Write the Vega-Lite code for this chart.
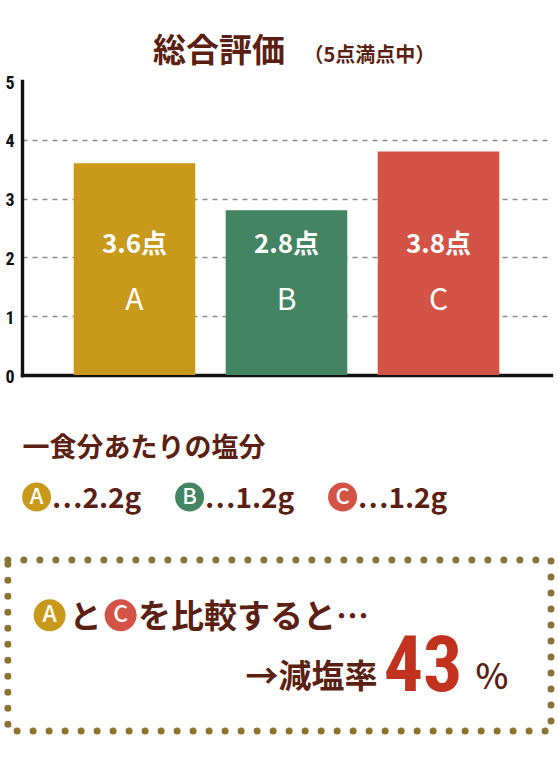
{
  "$schema": "https://vega.github.io/schema/vega-lite/v6.json",
  "background": "#ffffff",
  "padding": {"left": 4, "top": 36, "right": 0, "bottom": 0},
  "config": {"font": "Noto Sans CJK JP", "view": {"stroke": null}},
  "columns": 1,
  "align": "none",
  "spacing": 19,
  "concat": [
    {
      "width": 529,
      "height": 294,
      "title": {
        "text": "総合評価",
        "anchor": "start",
        "dx": 148,
        "font": "Noto Sans CJK JP",
        "fontSize": 33,
        "fontWeight": "bold",
        "color": "#5B1F14",
        "offset": -23.5
      },
      "data": {
        "values": [
          {"item": "A", "score": 3.6},
          {"item": "B", "score": 2.8},
          {"item": "C", "score": 3.8}
        ]
      },
      "transform": [{"calculate": "format(datum.score, '.1f') + '点'", "as": "scoreLabel"}],
      "encoding": {
        "x": {
          "field": "item",
          "type": "nominal",
          "sort": null,
          "scale": {"paddingInner": 0.2, "paddingOuter": 0.34},
          "axis": {
            "labels": false,
            "ticks": false,
            "domainColor": "#111111",
            "domainWidth": 3.4,
            "domainCap": "square",
            "title": "一食分あたりの塩分",
            "titleAnchor": "start",
            "titleAlign": "left",
            "titleBaseline": "top",
            "titleFont": "Noto Sans CJK JP",
            "titleFontSize": 27,
            "titleFontWeight": "bold",
            "titleColor": "#5B1F14",
            "titlePadding": 60
          }
        }
      },
      "layer": [
        {
          "mark": {"type": "bar"},
          "encoding": {
            "y": {
              "field": "score",
              "type": "quantitative",
              "scale": {"domain": [0, 5], "nice": false},
              "axis": {
                "title": "（5点満点中）",
                "titleAngle": 0,
                "titleAlign": "left",
                "titleBaseline": "alphabetic",
                "titleX": 281,
                "titleY": -19.5,
                "titleFont": "Noto Sans CJK JP",
                "titleFontSize": 20,
                "titleFontWeight": "bold",
                "titleColor": "#5B1F14",
                "values": [0, 1, 2, 3, 4, 5],
                "format": "d",
                "ticks": false,
                "labelFont": "Liberation Sans Narrow, Roboto Condensed, Noto Sans CJK JP",
                "labelFontSize": 18,
                "labelFontWeight": "bold",
                "labelColor": "#111111",
                "labelPadding": 8,
                "labelOffset": 2,
                "domainColor": "#111111",
                "domainWidth": 3.4,
                "domainCap": "square",
                "grid": true,
                "gridColor": "#8c8c8c",
                "gridDash": [5, 5],
                "gridWidth": 1.4,
                "gridOpacity": {"condition": {"test": "datum.value === 0 || datum.value === 5", "value": 0}, "value": 1}
              }
            },
            "color": {
              "field": "item",
              "type": "nominal",
              "scale": {"domain": ["A", "B", "C"], "range": ["#C8991A", "#438462", "#D35446"]},
              "legend": null
            }
          }
        },
        {
          "mark": {"type": "text", "color": "#ffffff", "fontSize": 26, "fontWeight": "bold", "baseline": "middle"},
          "encoding": {
            "text": {"field": "scoreLabel"},
            "y": {"datum": 2.21, "type": "quantitative"}
          }
        },
        {
          "mark": {"type": "text", "color": "#ffffff", "fontSize": 30, "fontWeight": "normal", "baseline": "middle"},
          "encoding": {
            "text": {"field": "item"},
            "y": {"datum": 1.26, "type": "quantitative"}
          }
        }
      ]
    },
    {
      "width": 459,
      "height": 57,
      "data": {
        "values": [
          {"item": "A", "salt": 2.2},
          {"item": "B", "salt": 1.2},
          {"item": "C", "salt": 1.2}
        ]
      },
      "transform": [{"calculate": "'⋯' + format(datum.salt, '.1f') + 'g'", "as": "saltLabel"}],
      "encoding": {
        "x": {
          "field": "item",
          "type": "nominal",
          "sort": null,
          "bandPosition": 0.0954,
          "scale": {"type": "band", "paddingInner": 0, "paddingOuter": 0},
          "axis": null
        },
        "y": {
          "datum": "salt",
          "type": "nominal",
          "scale": {"type": "point", "padding": 0, "align": 0.298},
          "axis": null
        }
      },
      "layer": [
        {
          "mark": {"type": "point", "filled": true, "shape": "circle", "size": 841, "opacity": 1},
          "encoding": {
            "color": {
              "field": "item",
              "type": "nominal",
              "scale": {"domain": ["A", "B", "C"], "range": ["#C8991A", "#438462", "#D35446"]},
              "legend": null
            }
          }
        },
        {
          "mark": {"type": "text", "color": "#ffffff", "fontSize": 22, "fontWeight": 500, "baseline": "middle"},
          "encoding": {"text": {"field": "item"}}
        },
        {
          "mark": {"type": "text", "align": "left", "baseline": "alphabetic", "dx": 15, "dy": 11, "fontSize": 28, "fontWeight": "bold", "color": "#5B1F14"},
          "encoding": {"text": {"field": "saltLabel"}}
        }
      ]
    },
    {
      "width": 529,
      "height": 171,
      "data": {"values": [{}]},
      "layer": [
        {
          "mark": {"type": "rect", "filled": false, "stroke": "#8A7333", "strokeWidth": 7, "strokeDash": [0, 16], "strokeCap": "round"},
          "encoding": {
            "x": {"datum": -2.67, "type": "quantitative", "scale": {"domain": [0, 100], "nice": false, "zero": false}, "axis": null},
            "x2": {"datum": 100},
            "y": {"datum": 0, "type": "quantitative", "scale": {"domain": [0, 100], "nice": false}, "axis": null},
            "y2": {"datum": 100}
          }
        },
        {
          "mark": {"type": "point", "filled": true, "shape": "circle", "size": 1024, "opacity": 1, "color": "#C8991A"},
          "encoding": {
            "x": {"datum": 5.22, "type": "quantitative"},
            "y": {"datum": 67.7, "type": "quantitative"}
          }
        },
        {
          "mark": {"type": "text", "color": "#ffffff", "fontSize": 23, "fontWeight": 500, "baseline": "middle"},
          "encoding": {
            "x": {"datum": 5.22, "type": "quantitative"},
            "y": {"datum": 67.7, "type": "quantitative"},
            "text": {"value": "A"}
          }
        },
        {
          "mark": {"type": "text", "color": "#5B1F14", "fontSize": 32, "fontWeight": "bold", "baseline": "alphabetic", "align": "center"},
          "encoding": {
            "x": {"datum": 12.02, "type": "quantitative"},
            "y": {"datum": 60.1, "type": "quantitative"},
            "text": {"value": "と"}
          }
        },
        {
          "mark": {"type": "point", "filled": true, "shape": "circle", "size": 1024, "opacity": 1, "color": "#D35446"},
          "encoding": {
            "x": {"datum": 18.64, "type": "quantitative"},
            "y": {"datum": 67.7, "type": "quantitative"}
          }
        },
        {
          "mark": {"type": "text", "color": "#ffffff", "fontSize": 23, "fontWeight": 500, "baseline": "middle"},
          "encoding": {
            "x": {"datum": 18.64, "type": "quantitative"},
            "y": {"datum": 67.7, "type": "quantitative"},
            "text": {"value": "C"}
          }
        },
        {
          "mark": {"type": "text", "color": "#5B1F14", "fontSize": 33, "fontWeight": "bold", "baseline": "alphabetic", "align": "left"},
          "encoding": {
            "x": {"datum": 21.93, "type": "quantitative"},
            "y": {"datum": 60.1, "type": "quantitative"},
            "text": {"value": "を比較すると…"}
          }
        },
        {
          "mark": {"type": "text", "color": "#5B1F14", "fontSize": 33, "fontWeight": "bold", "baseline": "alphabetic", "align": "right"},
          "encoding": {
            "x": {"datum": 67.22, "type": "quantitative"},
            "y": {"datum": 25.2, "type": "quantitative"},
            "text": {"value": "→減塩率"}
          }
        },
        {
          "mark": {"type": "text", "color": "#C1321F", "font": "Liberation Sans Narrow, Roboto Condensed, Noto Sans CJK JP", "fontSize": 78, "fontWeight": "bold", "baseline": "alphabetic", "align": "center"},
          "encoding": {
            "x": {"datum": 75.82, "type": "quantitative"},
            "y": {"datum": 23.2, "type": "quantitative"},
            "text": {"value": "43"}
          }
        },
        {
          "mark": {"type": "text", "color": "#5B1F14", "fontSize": 35, "fontWeight": 500, "baseline": "alphabetic", "align": "left"},
          "encoding": {
            "x": {"datum": 85.75, "type": "quantitative"},
            "y": {"datum": 24.4, "type": "quantitative"},
            "text": {"value": "%"}
          }
        }
      ]
    }
  ]
}
